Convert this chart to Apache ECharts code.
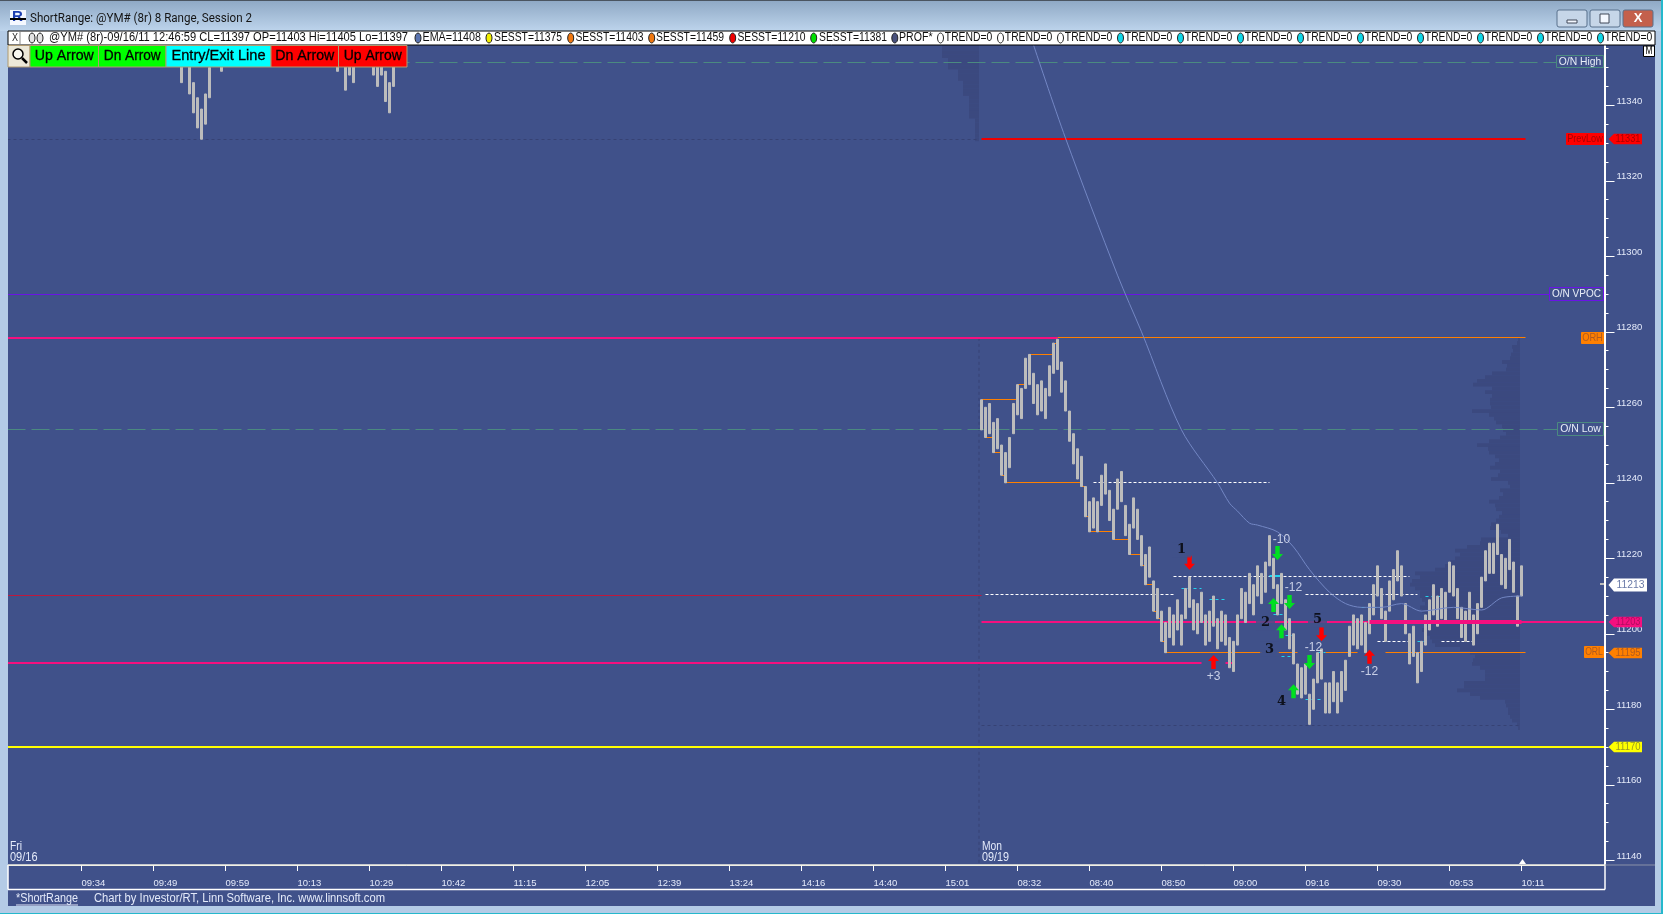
<!DOCTYPE html>
<html><head><meta charset="utf-8">
<style>html,body{margin:0;padding:0;background:#40518a}#c{width:1663px;height:914px}</style>
<script src="https://cdn.jsdelivr.net/npm/echarts@6/dist/echarts.min.js"></script>
</head><body><div id="c"></div>
<script>
// ---------- data ----------
const tickLabels = ['09:34','09:49','09:59','10:13','10:29','10:42','11:15','12:05','12:39','13:24','14:16','14:40','15:01','08:32','08:40','08:50','09:00','09:16','09:30','09:53','10:11'];
const priceLabels = [11140,11160,11180,11200,11220,11240,11260,11280,11300,11320,11340];
const priceMinor = [11140,11145,11150,11155,11160,11165,11170,11175,11180,11185,11190,11195,11200,11205,11210,11215,11220,11225,11230,11235,11240,11245,11250,11255,11260,11265,11270,11275,11280,11285,11290,11295,11300,11305,11310,11315,11320,11325,11330,11335,11340,11345,11350,11355];
const fridayBars = [43,45,46,47,48,49,50,53,82,84,85,86,91,92,93,94,95,96];
const fridayHighs = [11354,11351,11346,11342,11339,11343,11350,11357,11357,11352,11356,11354,11356,11353,11356,11349,11346,11353];
const fridayLows  = [11346,11343,11338,11334,11331,11335,11342,11349,11349,11344,11348,11346,11348,11345,11348,11341,11338,11345];
const mondayFirstBar = 243;
const mondayHighs = [11262,11260,11261,11256,11257,11250,11248,11252,11261,11266,11265,11273,11274,11269,11266,11267,11265,11271,11277,11278,11272,11267,11259,11253,11249,11247,11239,11235,11236,11235,11242,11245,11238,11233,11241,11243,11234,11229,11236,11233,11226,11221,11223,11214,11212,11206,11203,11207,11205,11209,11205,11212,11215,11209,11208,11211,11205,11206,11210,11204,11206,11205,11199,11198,11205,11212,11211,11216,11213,11218,11216,11219,11226,11220,11213,11216,11209,11204,11200,11192,11191,11192,11184,11188,11195,11196,11187,11187,11190,11187,11190,11193,11202,11205,11204,11205,11203,11208,11213,11218,11212,11206,11214,11217,11222,11218,11208,11200,11202,11195,11198,11205,11209,11213,11210,11212,11211,11219,11218,11212,11207,11206,11211,11205,11208,11215,11222,11224,11224,11229,11221,11220,11225,11219,11210,11218];
const mondayLows  = [11254,11252,11253,11248,11249,11242,11240,11244,11253,11258,11257,11265,11266,11261,11258,11259,11257,11263,11269,11270,11264,11259,11251,11245,11241,11239,11231,11227,11228,11227,11234,11237,11230,11225,11233,11235,11226,11221,11228,11225,11218,11213,11215,11206,11204,11198,11195,11199,11197,11201,11197,11204,11207,11201,11200,11203,11197,11198,11202,11196,11198,11197,11191,11190,11197,11204,11203,11208,11205,11210,11208,11211,11218,11212,11205,11208,11201,11196,11192,11184,11183,11184,11176,11180,11187,11188,11179,11179,11182,11179,11182,11185,11194,11197,11196,11197,11195,11200,11205,11210,11204,11198,11206,11209,11214,11210,11200,11192,11194,11187,11190,11197,11201,11205,11202,11204,11203,11211,11210,11204,11199,11198,11203,11197,11200,11207,11214,11216,11216,11221,11213,11212,11217,11211,11202,11210];
const emaBars = [256,264,277,283,293,302,305,307,310,312,317,321,325,330,334,338,343,348,353,361,368,373,378];
const emaValues = [11356,11331.3,11295,11280,11254,11240,11234.6,11232.5,11229.3,11228.8,11227,11223,11217,11211,11208,11207,11207,11208,11206,11207,11206.3,11209.5,11210];
const profileMonPrices = [11278,11277,11276,11275,11274,11273,11272,11271,11270,11269,11268,11267,11266,11265,11264,11263,11262,11261,11260,11259,11258,11257,11256,11255,11254,11253,11252,11251,11250,11249,11248,11247,11246,11245,11244,11243,11242,11241,11240,11239,11238,11237,11236,11235,11234,11233,11232,11231,11230,11229,11228,11227,11226,11225,11224,11223,11222,11221,11220,11219,11218,11217,11216,11215,11214,11213,11212,11211,11210,11209,11208,11207,11206,11205,11204,11203,11202,11201,11200,11199,11198,11197,11196,11195,11194,11193,11192,11191,11190,11189,11188,11187,11186,11185,11184,11183,11182,11181,11180,11179,11178,11177,11176,11175];
const profileMonVolume = [2,3,8,7,9,10,18,13,14,28,35,43,47,28,35,28,30,30,29,48,31,26,24,18,17,14,20,31,43,32,31,25,21,25,30,20,22,29,12,10,20,17,21,31,25,24,18,21,24,29,30,19,12,39,40,53,65,60,65,70,75,85,105,100,108,110,105,100,100,98,95,100,98,95,95,95,95,98,95,90,88,85,60,50,45,47,48,40,35,35,35,56,56,63,50,40,15,14,12,12,10,8,3,2];
const profileFriPrices = [11356,11355,11354,11353,11352,11351,11350,11349,11348,11347,11346,11345,11344,11343,11342,11341,11340,11339,11338,11337,11336,11335,11334,11333,11332,11331];
const profileFriVolume = [37,37,37,37,31,31,31,21,21,21,16,16,16,16,10,10,10,10,10,10,4,4,4,4,4,4];
const levelNames = ['O/N High','PrevLow','O/N VPOC','ORH','O/N Low','ORL','PL','Target'];
const levelPrices = [11351.4,11331,11290,11278.4,11254.2,11195.1,11203,11170];
const levelMarks = [11192.3,11210.2,11175.6];
const pivotPrices = [11262,11252,11248,11242,11240,11266,11274,11277,11239,11231,11227,11225,11221,11218,11213,11206,11204,11198];
const pivotFrom   = [243,244,246,248,249,252,255,261,268,269,270,276,280,283,284,286,287,288];
const pivotTo     = [252,246,248,249,268,254,261,262,269,270,276,280,283,284,286,287,288,289];
const whitePrices = [11240,11215.3,11210.3,11210.3,11198,11198];
const whiteFrom   = [271,291,244,324,342,358];
const whiteTo     = [315,350,291,352,350,366];
const cyanPrices  = [11212,11209,11205,11194,11199.6,11182.6,11195,11207,11198,11210];
const cyanFrom    = [293,300,316,318,319,324,327,338,352,354];
const cyanTo      = [298,304,319,321,322,328,329,344,354,358];
const arrowRedDown = [[295,11218.8],[328,11199.9]];
const arrowRedUp   = [[301,11192.5],[340,11193.9]];
const arrowGreenDown = [[317,11221.4],[320,11208.4],[325,11192.5]];
const arrowGreenUp   = [[316,11207.6],[318,11200.7],[321,11184.8]];
const stepNotes = [[293,11222.2,'1'],[314,11202.9,'2'],[315,11195.9,'3'],[318,11181.9,'4'],[327,11203.7,'5']];
const pointNotes = [[318,11225,'-10'],[321,11212.1,'-12'],[326,11196.3,'-12'],[340,11190,'-12'],[301,11188.6,'+3']];
const priceTagValues = [11331,11213,11203,11195,11170];
const trendCount = 12;

// ---------- layout / style ----------
const SANS = '"Liberation Sans",sans-serif';
const PLOT = '#40518a', STRIP = '#b4cbe6';
const BAR_COUNT = 399, EDGE_L = -1, EDGE_R = 9999;
const mctx = document.createElement('canvas').getContext('2d');
const fit = (s,font,w)=>{mctx.font=font;return w/mctx.measureText(s).width;};
const categories = Array.from({length:BAR_COUNT},(_,i)=> (i%18===0 && i>0 && tickLabels[i/18-1]) || '');
const candle = new Array(BAR_COUNT).fill('-');
fridayBars.forEach((b,i)=>{candle[b]=[fridayLows[i],fridayHighs[i],fridayLows[i],fridayHighs[i]];});
mondayHighs.forEach((h,i)=>{const l=mondayLows[i];candle[mondayFirstBar+i]=[l,h,l,h];});

const PINK='#f5107f',ORANGE='#ff8000',GREENDASH='#4b8a80',DARK='#364274';
const segsUnder=[
 {p:levelPrices[0],a:EDGE_L,b:387,c:GREENDASH,w:1,d:[18,6]},
 {p:levelPrices[1],a:EDGE_L,b:242,c:DARK,w:1,d:[3,3]},
 {p:levelPrices[1],a:243,b:379,c:'#f00000',w:2},
 {p:levelPrices[2],a:EDGE_L,b:385,c:'#6a14e6',w:1},
 {p:levelPrices[3],a:262,b:379,c:ORANGE,w:1},
 {p:levelPrices[3],a:EDGE_L,b:262,c:PINK,w:2},
 {p:levelPrices[4],a:EDGE_L,b:387,c:GREENDASH,w:1,d:[18,6]},
 {p:levelMarks[1],a:EDGE_L,b:243,c:'#c0183c',w:1},
 {p:levelPrices[6],a:243,b:EDGE_R,c:PINK,w:2},
 {p:levelMarks[0],a:EDGE_L,b:298,c:PINK,w:2},
 {p:levelMarks[0],a:304,b:306,c:PINK,w:2},
 {p:levelPrices[5],a:289,b:313,c:ORANGE,w:1},
 {p:levelPrices[5],a:317,b:322,c:ORANGE,w:1},
 {p:levelPrices[5],a:329,b:337,c:ORANGE,w:1},
 {p:levelPrices[5],a:344,b:379,c:ORANGE,w:1},
 {p:levelMarks[2],a:243,b:378,c:DARK,w:1,d:[3,3]},
 {p:levelPrices[7],a:EDGE_L,b:EDGE_R,c:'#ffff00',w:2}
];
pivotPrices.forEach((p,i)=>segsUnder.push({p,a:pivotFrom[i],b:pivotTo[i],c:ORANGE,w:1}));
whitePrices.forEach((p,i)=>segsUnder.push({p,a:whiteFrom[i],b:whiteTo[i],c:'#ffffff',w:1,d:[3,2]}));
cyanPrices.forEach((p,i)=>segsUnder.push({p,a:cyanFrom[i],b:cyanTo[i],c:'#22d4ee',w:1,d:[3,3]}));
segsUnder.push({p:whitePrices[1],a:315,b:318,c:'#22d4ee',w:2});
const segsOver=[{p:levelPrices[6],a:340,b:378,c:PINK,w:4}];

function segSeries(name,list,z){
 return {type:'custom',name,z,silent:true,clip:true,encode:{y:0},data:list.map(s=>[s.p]),
  renderItem(params,api){
   const s=list[params.dataIndex],cs=params.coordSys;
   const yr=api.coord([0,s.p])[1];
   const y=s.w%2?Math.floor(yr)+.5:Math.round(yr);
   const x1=s.a===EDGE_L?cs.x:api.coord([s.a,s.p])[0];
   const x2=s.b===EDGE_R?cs.x+cs.width+1:api.coord([s.b,s.p])[0];
   return {type:'line',shape:{x1,y1:y,x2,y2:y},style:{stroke:s.c,lineWidth:s.w,lineDash:s.d||null,fill:null}};
  }};
}
function profileSeries(name,prices,vols,rightBar,inset){
 return {type:'custom',name,z:1,silent:true,clip:true,encode:{y:0},data:prices.map((p,i)=>[p,vols[i]]),
  renderItem(params,api){
   const p=api.value(0),v=api.value(1);
   const r=api.coord([rightBar,p])[0]-inset;
   const top=api.coord([rightBar,p+0.5])[1],bot=api.coord([rightBar,p-0.5])[1];
   return {type:'rect',shape:{x:r-v,y:top,width:v,height:bot-top},style:{fill:'#3b497f'}};
  }};
}
const tagStyles=[
 {fill:'#ff0000',text:'#a80000'},{fill:'#ffffff',text:'#6a7aa8'},{fill:PINK,text:'#b00c60'},{fill:ORANGE,text:'#b05a20'},{fill:'#ffff00',text:'#9a9a20'}
];
const tagXEnd=[1642,1647,1642,1642,1642];
const boxes=[
 {i:0,x:1556,h:12,tw:42.5,txt:'#e8eef8',bd:'#4b8a80'},{i:1,x:1566,h:11,tw:35.7,txt:'#a80000',fill:'#ff0000'},
 {i:2,x:1549,h:13,tw:49,txt:'#e8eef8',bd:'#6a14e6'},{i:3,x:1581,h:11,tw:20.7,txt:'#b05a20',fill:ORANGE},
 {i:4,x:1557,h:13,tw:40.7,txt:'#e8eef8',bd:'#4b8a80'},{i:5,x:1584,h:11,tw:17.7,txt:'#b05a20',fill:ORANGE,label:'ORL'}
];
const UP='path://M5 0 L10 6 L7 6 L7 14 L3 14 L3 6 L0 6 Z';
function arrows(name,data,color,down){
 return {type:'scatter',name,z:6,silent:true,symbol:UP,symbolSize:[11,14],symbolRotate:down?180:0,data,itemStyle:{color,opacity:1}};
}
function notes(name,data,style,z){
 return {type:'scatter',name,z,silent:true,symbolSize:1,itemStyle:{color:'rgba(0,0,0,0)'},data:data.map(d=>({value:[d[0],d[1]],label:{show:true,position:'inside',formatter:d[2],...style}}))};
}
const series=[
 profileSeries('ProfileFri',profileFriPrices,profileFriVolume,mondayFirstBar,2.5),
 profileSeries('ProfileMon',profileMonPrices,profileMonVolume,378,1.5),
 {type:'custom',name:'SessionStart',z:1,silent:true,clip:true,encode:{y:0},data:[[levelPrices[3]]],
  renderItem(params,api){const c=api.coord([mondayFirstBar,api.value(0)]);const cs=params.coordSys;
   return {type:'line',shape:{x1:c[0]-2.5,y1:c[1],x2:c[0]-2.5,y2:cs.y+cs.height},style:{stroke:DARK,lineWidth:1,lineDash:[3,3]}};}},
 segSeries('Levels',segsUnder,2),
 {type:'candlestick',name:'@YM# (8r)',z:3,silent:true,clip:true,barWidth:2,data:candle,
  itemStyle:{color:'#bcbcbc',color0:'#bcbcbc',borderColor:'#bcbcbc',borderColor0:'#bcbcbc',borderWidth:1}},
 segSeries('VPOC',segsOver,4),
 {type:'line',name:'EMA',z:5,silent:true,symbol:'none',clip:true,smooth:0.3,data:emaBars.map((b,i)=>[b,emaValues[i]]),lineStyle:{color:'#7387c4',width:1}},
 arrows('RedDown',arrowRedDown,'#ff0000',true),
 arrows('RedUp',arrowRedUp,'#ff0000',false),
 arrows('GreenDown',arrowGreenDown,'#00e020',true),
 arrows('GreenUp',arrowGreenUp,'#00e020',false),
 notes('Steps',stepNotes,{color:'#000',fontFamily:'"DejaVu Serif"',fontWeight:'bold',fontSize:13,backgroundColor:PLOT,padding:[1,5]},7),
 notes('Points',pointNotes,{color:'#e8eefc',fontFamily:'"Liberation Sans"',fontSize:12},7),
 {type:'custom',name:'Boxes',z:8,silent:true,clip:false,encode:{y:0},data:boxes.map(b=>[levelPrices[b.i]]),
  renderItem(params,api){
   const b=boxes[params.dataIndex],y=Math.round(api.coord([0,api.value(0)])[1]),xr=1604;
   const s=b.label||levelNames[b.i],font='11.5px '+SANS;
   return {type:'group',children:[
    {type:'rect',shape:{x:b.x+.5,y:y-Math.floor(b.h/2)-.5,width:xr-b.x-1,height:b.h},style:{fill:b.fill||PLOT,stroke:b.fill||b.bd,lineWidth:1}},
    {type:'text',x:(b.x+xr)/2,y:y,scaleX:fit(s,font,b.tw),style:{x:0,y:0,text:s,fill:b.txt,font,align:'center',verticalAlign:'middle'}}]};
  }},
 {type:'custom',name:'Tags',z:8,silent:true,clip:false,encode:{y:0},data:priceTagValues.map(p=>[p]),
  renderItem(params,api){
   const i=params.dataIndex,st=tagStyles[i],p=api.value(0),y=Math.round(api.coord([0,p])[1]);
   const h=i===1?13:10.5,xe=tagXEnd[i],tip=1608.5,sh=1614,font='11.5px '+SANS;
   return {type:'group',children:[
    {type:'polygon',shape:{points:[[tip,y],[sh,y-h/2],[xe,y-h/2],[xe,y+h/2],[sh,y+h/2]]},style:{fill:st.fill}},
    {type:'text',x:(sh+xe)/2,y:y,scaleX:fit(String(p),font,i===1?28:25),style:{x:0,y:0,text:String(p),fill:st.text,font,align:'center',verticalAlign:'middle'}}]};
  }}
];

// ---------- window chrome (text and panels round the chart) ----------
const g=[];
const rect=(x,y,w,h,fill,extra)=>g.push({type:'rect',z:100,silent:true,shape:{x,y,width:w,height:h},style:Object.assign({fill},extra||{})});
const text=(x,y,s,font,fill,width,align)=>g.push({type:'text',z:101,silent:true,x,y,scaleX:width?fit(s,font,width):1,style:{x:0,y:0,text:s,font,fill,align:align||'left',verticalAlign:'middle'}});
const hline=(x1,y1,x2,y2,stroke,w)=>g.push({type:'line',z:101,silent:true,shape:{x1,y1,x2,y2},style:{stroke,lineWidth:w||1}});
// frame
g.push({type:'rect',z:100,silent:true,shape:{x:0,y:0,width:1663,height:31},style:{fill:{type:'linear',x:0,y:0,x2:0,y2:1,colorStops:[{offset:0,color:'#8ea8c4'},{offset:1,color:'#bdd4ec'}]}}});
rect(0,0,1663,1,'#4a5560');
rect(0,31,8,875,STRIP); rect(1655,31,8,875,STRIP); rect(0,906,1663,7,STRIP); rect(0,913,1663,1,'#25b8cc');
rect(1661,0,2,914,'#25b8cc');
// title
rect(10,10,16,15,'#f4f8ff');
text(12,17,'R','bold 15px '+SANS,'#1c3fb0');
hline(10,19,26,19,'#000',2);
text(30,19,'ShortRange: @YM# (8r) 8 Range, Session 2','12.5px Roboto','#141414',222);
// window buttons
[[1557,'#c6d6e8'],[1590,'#c6d6e8'],[1623,'#c4604c']].forEach(b=>g.push({type:'rect',z:100,silent:true,shape:{x:b[0],y:10,width:30,height:17,r:2},style:{fill:b[1],stroke:'#58708c',lineWidth:1}}));
rect(1567,20,10,3,'#f4f8ff',{stroke:'#404858',lineWidth:1});
rect(1600,14,9,9,'#f4f8ff',{stroke:'#404858',lineWidth:1});
text(1638,18.5,'X','bold 13px '+SANS,'#ffffff',0,'center');
// status row
rect(8,31,1647,14,'#ffffff',{stroke:'#000',lineWidth:1});
const dot=(x,c)=>g.push({type:'ellipse',z:101,silent:true,shape:{cx:x,cy:38,rx:3,ry:5},style:{fill:c,stroke:'#222',lineWidth:1}});
text(15,38,'X','10px '+SANS,'#222',6,'center');
hline(20,32,20,44,'#888');
dot(32,'#e4e4e4');dot(40,'#e4e4e4');
const SF='12.5px '+SANS;
text(49,38,'@YM# (8r)-09/16/11 12:46:59 CL=11397 OP=11403 Hi=11405 Lo=11397',SF,'#111',359);
dot(418,'#5a74b0');text(422.5,38,'EMA=11408',SF,'#111',58.5);
dot(489,'#f4f000');text(494,38,'SESST=11375',SF,'#111',68);
dot(570.7,'#f07810');text(575.4,38,'SESST=11403',SF,'#111',68);
dot(651.7,'#f07810');text(656,38,'SESST=11459',SF,'#111',68);
dot(732.7,'#f00000');text(737.4,38,'SESST=11210',SF,'#111',68);
dot(813.7,'#00e000');text(819,38,'SESST=11381',SF,'#111',68);
dot(894.8,'#48507c');text(899,38,'PROF*',SF,'#111',33.5);
for(let i=0;i<trendCount;i++){const x=940.5+60*i;dot(x,i<3?'#ffffff':'#10d8e8');text(x+4.3,38,'TREND=0',SF,'#111',47.5);}
// toolbar
const btn=(x,w,fill,s,tw)=>{rect(x,45.5,w,21.5,fill,{stroke:'#b09a70',lineWidth:1});if(s){const f='15px '+SANS;g.push({type:'text',z:101,silent:true,x:x+w/2,y:56,scaleX:fit(s,f,tw),style:{x:0,y:0,text:s,font:f,fill:'#000',stroke:'#000',lineWidth:.3,align:'center',verticalAlign:'middle'}});}};
btn(8,22,'#ece8d8');
g.push({type:'circle',z:102,silent:true,shape:{cx:18,cy:54,r:5},style:{fill:'#f8f8f0',stroke:'#000',lineWidth:1.5}});
hline(22,58,27,63,'#000',2.5);hline(15,54,21,54,'#000',1);hline(18,51,18,57,'#000',1);
btn(30,68.5,'#00ff00','Up Arrow',59);btn(98.5,67.5,'#00ff00','Dn Arrow',57);btn(166,105,'#00ffff','Entry/Exit Line',94);btn(271,67.5,'#ff0000','Dn Arrow',59);btn(338.5,68.5,'#ff0000','Up Arrow',58);
// M button
rect(1643.5,46,11,10.5,'#ffffff',{stroke:'#000',lineWidth:1});
text(1649,51.5,'M','10px '+SANS,'#000',7,'center');
// date labels
const DT='12px '+SANS,LT='#e4eafa';
text(10,847,'Fri',DT,LT,12);text(10,858,'09/16',DT,LT,27.5);text(982,847,'Mon',DT,LT,20);text(982,858,'09/19',DT,LT,27);
// time panel
hline(8,865,8,889.5,'#ffffff',1.5);hline(8,889.5,1605,889.5,'#ffffff',1.5);hline(1605,865,1605,889.5,'#ffffff',1.5);
hline(1605,865,1655,865,'#8a92a8',1);hline(8,865,1605,865,'#f2f0e4',1.5);
g.push({type:'polygon',z:101,silent:true,shape:{points:[[1522.5,859],[1526,864],[1519,864]]},style:{fill:'#ffffff'}});
// footer
text(16,899,'*ShortRange','12.5px '+SANS,LT,62);
hline(16,905,78,905,LT,1);
text(94,899,'Chart by Investor/RT, Linn Software, Inc. www.linnsoft.com','12.5px '+SANS,LT,291);
// last-price pointer
hline(1600,584,1604,584,'#bcbcbc',2);

const chart=echarts.init(document.getElementById('c'),null,{renderer:'canvas'});
const yCommon={type:'value',position:'right',offset:1,min:11138.75,max:11355.97,splitLine:{show:false}};
chart.setOption({
 animation:false,backgroundColor:PLOT,
 grid:{left:7.5,top:45,width:1596,height:820,containLabel:false},
 xAxis:{type:'category',data:categories,boundaryGap:true,
  axisLine:{show:true,lineStyle:{color:'#f2f0e4',width:1}},
  axisTick:{show:true,alignWithLabel:true,length:6,interval:(i,v)=>v!=='',lineStyle:{color:'#ffffff',width:1}},
  axisLabel:{show:true,interval:(i,v)=>v!=='',align:'left',margin:13,color:LT,fontFamily:SANS,fontSize:9.5,hideOverlap:false},
  splitLine:{show:false}},
 yAxis:[
  Object.assign({},yCommon,{axisLine:{show:true,lineStyle:{color:'#ffffff',width:2}},
   axisTick:{show:true,length:10,customValues:priceLabels,lineStyle:{color:'#ffffff',width:1}},
   axisLabel:{show:true,customValues:priceLabels,formatter:v=>String(v),margin:12,color:'#e4eafa',fontFamily:SANS,fontSize:9.5,verticalAlign:'bottom',lineHeight:8,hideOverlap:false,showMinLabel:true,showMaxLabel:true}}),
  Object.assign({},yCommon,{axisLine:{show:false},
   axisTick:{show:true,length:4,customValues:priceMinor,lineStyle:{color:'#ffffff',width:1}},axisLabel:{show:false}})
 ],
 series,
 graphic:{elements:g}
});
</script></body></html>
